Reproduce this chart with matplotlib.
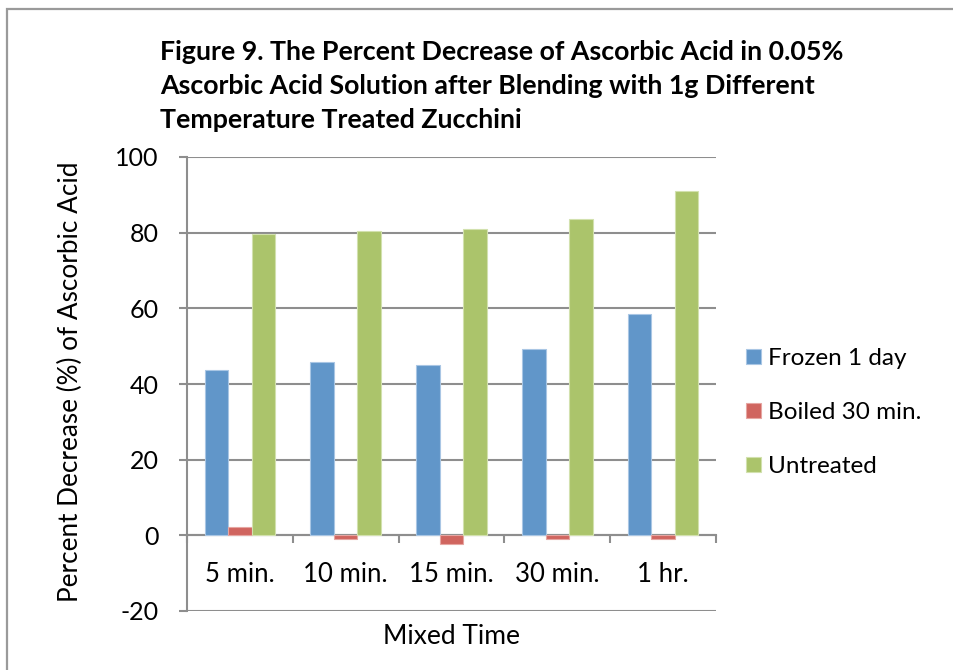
import numpy as np
import matplotlib
matplotlib.use("Agg")
import matplotlib.pyplot as plt
from matplotlib.patches import Rectangle

# data
categories = ["5 min.", "10 min.", "15 min.", "30 min.", "1 hr."]
series_names = ["Frozen 1 day", "Boiled 30 min.", "Untreated"]
frozen = [43.8, 45.9, 45.1, 49.2, 58.5]
boiled = [2.1, -1.1, -2.3, -1.1, -1.1]
untreated = [79.6, 80.4, 81.1, 83.5, 91.1]
yticks = [-20, 0, 20, 40, 60, 80, 100]

colors = ["#6196C9", "#D0655F", "#ABC46B"]
edges = ["#A9C6E4", "#E6A6A2", "#D2E1AE"]
grid_gray = "#8E8E8E"

plt.rcParams['font.family'] = ['Lato', 'DejaVu Sans']
plt.rcParams['axes.unicode_minus'] = False

W, H = 954, 670
fig = plt.figure(figsize=(W / 100, H / 100), dpi=100)

# chart area border (cropped on right/bottom like the screenshot)
fig.patches.append(Rectangle((7 / W, -0.1), 1.2, 1 - 8.5 / H + 0.1,
                             transform=fig.transFigure, fill=False,
                             edgecolor="#9A9A9A", linewidth=1.6))

ax = fig.add_axes([187 / W, 1 - 611 / H, (716 - 187) / W, (611 - 157) / H])

x = np.arange(len(categories))
bw = 1 / 4.5
for i, vals in enumerate([frozen, boiled, untreated]):
    ax.bar(x + (i - 1) * bw, vals, width=bw, color=colors[i],
           edgecolor=edges[i], linewidth=0.8, label=series_names[i], zorder=3)

ax.set_xlim(-0.5, len(categories) - 0.5)
ax.set_ylim(-20, 100)
ax.set_yticks(yticks)
ax.yaxis.grid(True, color=grid_gray, linewidth=1.5, zorder=0)
ax.set_axisbelow(True)

for s in ["top", "right"]:
    ax.spines[s].set_visible(False)
ax.spines["left"].set_color(grid_gray)
ax.spines["left"].set_linewidth(1.5)
ax.spines["bottom"].set_position(("data", 0))
ax.spines["bottom"].set_color(grid_gray)
ax.spines["bottom"].set_linewidth(1.5)

ax.tick_params(axis="y", direction="out", length=5.5, width=1.5, color=grid_gray,
               pad=15, labelsize=18)
ax.set_xticks(x)
ax.set_xticklabels(categories)
ax.set_xticks(np.arange(len(categories) + 1) - 0.5, minor=True)
ax.tick_params(axis="x", which="major", length=0, pad=19, labelsize=18.5)
ax.tick_params(axis="x", which="minor", direction="out", length=5.5, width=1.5,
               color=grid_gray)

fig.text(70 / W, 1 - 382 / H, "Percent Decrease (%) of Ascorbic Acid",
         rotation=90, ha="center", va="center", fontsize=18.8)
fig.text(452 / W, 1 - 636 / H, "Mixed Time", ha="center", va="center", fontsize=19)

fig.text(160 / W, 1 - 40 / H,
         "Figure 9. The Percent Decrease of Ascorbic Acid in 0.05%\n"
         "Ascorbic Acid Solution after Blending with 1g Different\n"
         "Temperature Treated Zucchini",
         ha="left", va="top", fontsize=19.3, fontweight="bold", linespacing=1.5)

ax.legend(loc="upper left", bbox_to_anchor=(746 / W, 1 - 348 / H),
          bbox_transform=fig.transFigure, frameon=False, fontsize=17.5,
          handlelength=0.62, handleheight=0.62, handletextpad=0.3,
          labelspacing=1.36, borderpad=0, borderaxespad=0)

fig.savefig("out.png", dpi=100)
